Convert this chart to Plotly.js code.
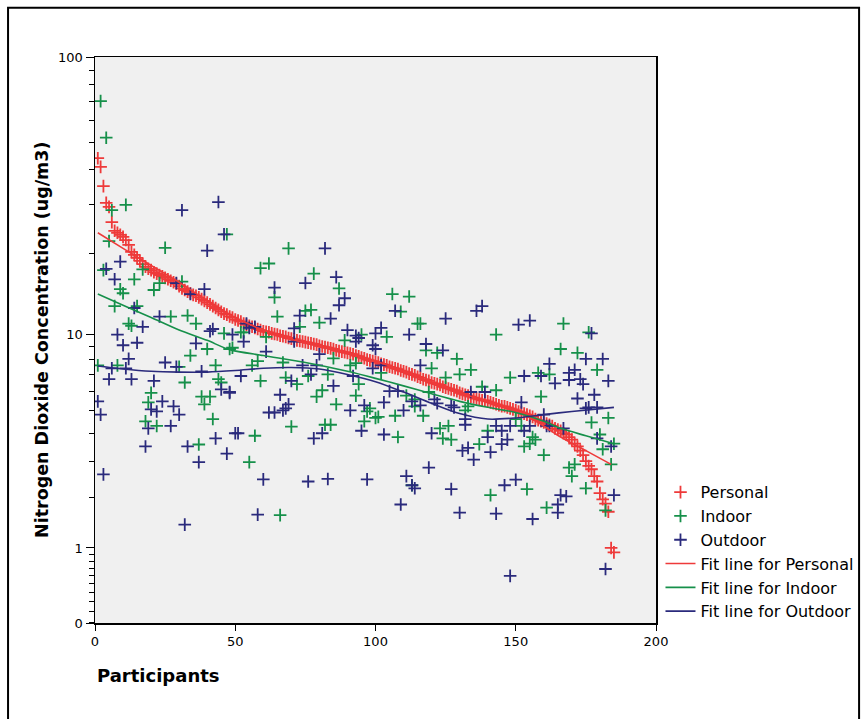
<!DOCTYPE html>
<html>
<head>
<meta charset="utf-8">
<script src="https://cdn.plot.ly/plotly-3.0.1.min.js"></script>
<style>html,body{margin:0;padding:0;background:#fff;}#chart{width:861px;height:719px;}</style>
</head>
<body>
<div id="chart"></div>
<script>
// Personal NO2 (ug/m3), participants 1..185 (sorted descending)
const personalValues = [44,41,35,30.5,29.5,26,24.2,23.8,23.4,23.0,22.4,21.5,20.3,19.8,19.3,18.8,18.3,17.9,17.6,17.4,
17.1,16.9,16.7,16.5,16.3,16.1,15.9,15.7,15.5,15.2,14.9,14.7,14.5,14.3,14.1,14.0,13.8,13.6,13.4,13.2,
13.0,12.8,12.6,12.4,12.2,12.0,11.9,11.7,11.6,11.4,11.3,11.2,11.0,10.9,10.8,10.7,10.6,10.5,10.4,10.3,
10.25,10.2,10.1,10.05,10.0,9.9,9.85,9.8,9.7,9.65,9.6,9.5,9.45,9.4,9.35,9.3,9.25,9.2,9.15,9.05,
9.0,8.95,8.9,8.85,8.8,8.7,8.65,8.6,8.55,8.5,8.45,8.4,8.3,8.25,8.15,8.1,8.0,7.95,7.9,7.85,
7.8,7.7,7.65,7.6,7.5,7.45,7.4,7.35,7.25,7.2,7.15,7.05,7.0,6.95,6.85,6.8,6.7,6.65,6.6,6.5,
6.45,6.4,6.35,6.25,6.2,6.15,6.1,6.05,6.0,5.9,5.85,5.8,5.75,5.7,5.65,5.6,5.55,5.5,5.5,5.45,
5.4,5.35,5.3,5.25,5.2,5.2,5.15,5.1,5.05,5.0,4.95,4.9,4.85,4.8,4.75,4.7,4.6,4.55,4.5,4.45,
4.4,4.35,4.3,4.2,4.15,4.1,4.0,3.95,3.85,3.75,3.6,3.5,3.35,3.2,3.0,2.85,2.75,2.55,2.4,2.1,
1.95,1.85,1.67,1.0,0.93];
const personalParticipant = personalValues.map((_, i) => i + 1);

// Indoor NO2 (participant, value)
const indoorParticipant = [2,4,6,11,5,3,17,14,9,10,21,23,31,25,7,15,27,33,36,12,13,46,47,1,8,34,40,43,32,49,44,45,20,19,38,41,39,18,22,42,37,30,
69,59,62,78,87,64,75,77,65,80,73,95,52,53,48,67,56,58,61,85,89,91,93,59,68,72,76,83,81,79,94,93,86,97,98,100,96,70,82,84,57,55,66,
106,112,109,116,115,143,104,118,122,129,120,130,134,125,148,102,138,143,119,111,114,114,133,132,107,101,117,123,126,124,127,108,137,140,113,141,
167,176,166,172,179,158,162,159,177,183,150,152,156,157,153,155,180,181,185,160,169,171,170,175,184,154,161,182];
const indoorValues = [70,52,28.7,30,22.2,17.4,17.5,16.1,14.8,14.3,14.7,15.6,15.8,21,12.8,12.8,11.7,11.8,11.0,11.0,10.8,10.1,23.5,7.6,7.6,8.3,8.8,7.6,6.5,8.9,6.7,6.5,5.9,5.4,5.7,5.7,5.3,4.5,4.3,4.6,3.57,7.5,
20.9,17.7,18.4,16.9,14.9,13.8,12.3,12.4,11.7,11.1,10.7,10.0,10.2,10.2,8.8,7.8,7.6,7.9,9.8,8.1,9.5,7.6,7.75,6.6,6.8,6.4,6.9,7.0,6.05,5.7,6.4,5.75,5.3,4.95,5.1,4.65,4.5,4.27,4.35,4.35,3.9,2.97,1.6,
14.2,13.9,12.2,11.0,11.0,10.0,9.8,8.7,8.5,8.05,7.4,7.0,7.3,6.8,6.8,7.1,6.25,6.05,5.95,5.75,5.2,5.55,5.2,5.0,4.75,4.7,4.75,4.2,4.3,3.8,3.75,3.85,3.58,4.1,2.3,2.05,
11,10.2,8.8,8.5,7.3,7.1,7.0,5.7,4.45,4.65,4.6,4.3,3.85,3.75,3.5,3.6,3.95,3.4,3.6,3.2,2.8,2.9,2.55,2.22,2.9,2.2,1.76,1.7];

// Outdoor NO2 (participant, value)
const outdoorParticipant = [31,44,46,40,9,4,7,29,34,39,14,23,17,41,42,49,8,
10,15,12,6,11,5,13,21,25,36,38,45,48,24,20,22,28,30,19,27,1,2,3,18,33,43,37,47,50,32,29,
82,86,75,64,89,87,73,84,71,90,100,93,54,55,57,53,
61,71,74,79,77,80,94,93,99,100,52,70,85,92,48,66,62,64,67,68,69,91,96,51,78,81,95,60,76,83,97,58,
107,125,136,138,151,102,112,
118,124,116,99,102,139,134,105,108,113,116,121,122,127,128,103,110,132,132,120,103,140,143,145,147,145,131,133,135,141,119,111,113,114,127,109,130,143,146,150,148,
155,177,
175,181,162,171,169,153,159,164,169,173,174,183,172,178,152,175,176,179,160,148,153,155,161,162,167,179,184,166,168,185,165,165,156,182];
const outdoorValues = [28.7,30.7,23.5,20.5,18.7,17.6,16.1,15.6,14.2,14.8,12.6,11.7,10.7,10.3,10.5,10.0,10.0,
9.1,9.3,8.06,7.4,7.4,6.7,6.7,6.6,7.8,9.25,7.2,6.1,5.9,5.45,5.05,4.95,5.2,4.8,4.2,4.3,5.45,4.8,2.6,3.5,3.5,3.8,2.97,3.25,4.0,1.41,7.5,
20.9,16.4,15.6,15.0,13.7,12.9,11.8,11.5,10.55,10.4,10.1,9.9,11.0,10.6,10.7,9.4,
8.6,9.4,7.6,7.6,7.0,8.4,9.7,9.4,9.1,8.8,6.9,6.6,6.3,6.9,5.95,5.8,4.9,4.9,5.0,5.1,5.3,5.0,5.25,4.0,3.8,4.0,4.1,2.46,2.4,2.47,2.46,1.61,
12.3,11.5,12.3,12.8,10.9,10.6,10.0,
9.2,8.7,7.6,7.4,7.6,5.95,5.95,6.0,6.0,5.45,5.25,5.55,5.35,5.25,5.15,5.4,5.0,4.6,4.35,4.0,3.95,3.85,4.3,4.1,3.75,3.58,3.35,3.45,3.05,3.3,2.8,2.55,2.3,2.22,2.2,1.83,1.65,1.63,2.3,2.45,0.6,
11.3,10.1,
8.05,8.05,7.7,7.3,7.1,6.9,6.9,6.45,6.65,6.7,6.4,6.6,5.6,5.8,5.4,5.1,5.15,5.15,4.8,4.3,4.1,4.3,4.3,4.3,4.2,3.8,3.5,2.05,2.02,2.05,1.83,1.65,1.52,0.69];

// Fit lines (loess)
const fitPersonalX = [1,10,20,30,40,50,60,70,80,90,100,110,120,130,140,148,158,166,175,184];
const fitPersonalY = [23.8,20.9,18.1,15.7,13.4,11.6,10.4,9.6,9.0,8.5,7.9,7.2,6.5,5.9,5.45,5.1,4.45,3.85,3.35,2.9];
const fitIndoorX = [1,10,20,30,40,48,60,75,90,100,110,120,130,140,150,160,166,175,185];
const fitIndoorY = [14.2,12.9,11.6,10.4,9.5,8.75,8.3,7.8,7.2,6.75,6.3,5.85,5.45,5.15,4.9,4.5,4.2,3.9,3.6];
const fitOutdoorX = [1,10,20,30,40,50,60,70,80,90,100,110,120,130,140,150,160,170,185];
const fitOutdoorY = [7.55,7.35,7.2,7.15,7.15,7.25,7.4,7.45,7.35,7.0,6.55,5.95,5.35,4.85,4.6,4.65,4.8,4.95,5.15];

// Axis labels
const yTickLabels = ['0','1','10','100'];
const yTickValues = [0, 1, 10, 100];
const xTickValues = [0, 50, 100, 150, 200];

// safe-log style axis: plotted on a log axis as (value + 1)
const sl = v => v + 1;
const yBottom = Math.pow(10, 0.0406);

const RED = '#EE3A3A', GREEN = '#16904A', NAVY = '#2A2A7C';
const font = 'DejaVu Sans, Verdana, sans-serif';

function markerTrace(name, xs, ys, color) {
  return {type: 'scatter', mode: 'markers', name: name, x: xs, y: ys.map(sl),
    marker: {symbol: 'cross-thin-open', size: 9, color: color, line: {color: color, width: 1.8}}};
}
function lineTrace(name, xs, ys, color) {
  return {type: 'scatter', mode: 'lines', name: name, x: xs, y: ys.map(sl),
    line: {color: color, width: 1.6, shape: 'spline', smoothing: 0.8}};
}

const data = [
  markerTrace('Personal', personalParticipant, personalValues, RED),
  markerTrace('Indoor', indoorParticipant, indoorValues, GREEN),
  markerTrace('Outdoor', outdoorParticipant, outdoorValues, NAVY),
  lineTrace('Fit line for Personal', fitPersonalX, fitPersonalY, RED),
  lineTrace('Fit line for Indoor', fitIndoorX, fitIndoorY, GREEN),
  lineTrace('Fit line for Outdoor', fitOutdoorX, fitOutdoorY, NAVY)
];

const minorVals = [];
[0.1,0.2,0.3,0.4,0.5,0.6,0.7,0.8,0.9,2,3,4,5,6,7,8,9,20,30,40,50,60,70,80,90].forEach(v => minorVals.push(sl(v)));

const layout = {
  width: 861, height: 719,
  margin: {l: 95, r: 205, t: 57, b: 96, autoexpand: false},
  paper_bgcolor: '#ffffff',
  plot_bgcolor: '#F0F0F0',
  font: {family: font, size: 12, color: '#000'},
  showlegend: true,
  legend: {x: 1.008, xanchor: 'left', y: 0.261, yanchor: 'top',
    font: {family: font, size: 16, color: '#000'}, bgcolor: 'rgba(0,0,0,0)', borderwidth: 0},
  xaxis: {range: [0, 200], tickmode: 'array', tickvals: xTickValues,
    ticks: 'outside', ticklen: 6, tickcolor: '#000', tickwidth: 1,
    showline: true, linecolor: '#000', linewidth: 1.5, mirror: true,
    showgrid: false, zeroline: false, tickfont: {size: 13}},
  yaxis: {type: 'log', range: [Math.log10(yBottom), Math.log10(101)],
    tickmode: 'array', tickvals: yTickValues.map((v,i) => v === 0 ? yBottom : sl(v)), ticktext: yTickLabels,
    ticks: 'outside', ticklen: 8, tickcolor: '#000', tickwidth: 1,
    minor: {tickmode: 'array', tickvals: minorVals, ticks: 'outside', ticklen: 5, tickcolor: '#000', tickwidth: 1, showgrid: false},
    showline: true, linecolor: '#000', linewidth: 1.5, mirror: true,
    showgrid: false, zeroline: false, tickfont: {size: 13}},
  annotations: [
    {text: '<b>Participants</b>', xref: 'paper', yref: 'paper', x: 0, y: -0.093,
     xanchor: 'left', yanchor: 'middle', showarrow: false, font: {family: font, size: 18, color: '#000'}},
    {text: '<b>Nitrogen Dioxide Concentration (ug/m3)</b>', xref: 'paper', yref: 'paper', x: -0.0945, y: 0.5,
     xanchor: 'center', yanchor: 'middle', textangle: -90, showarrow: false, font: {family: font, size: 17.5, color: '#000'}}
  ],
  shapes: [
    {type: 'rect', xref: 'paper', yref: 'paper', x0: -0.155, x1: 1.362, y0: -0.18, y1: 1.0868,
     line: {color: '#000', width: 2}, fillcolor: 'rgba(0,0,0,0)', layer: 'above'}
  ]
};

Plotly.newPlot('chart', data, layout, {displayModeBar: false, staticPlot: true});
</script>
</body>
</html>
